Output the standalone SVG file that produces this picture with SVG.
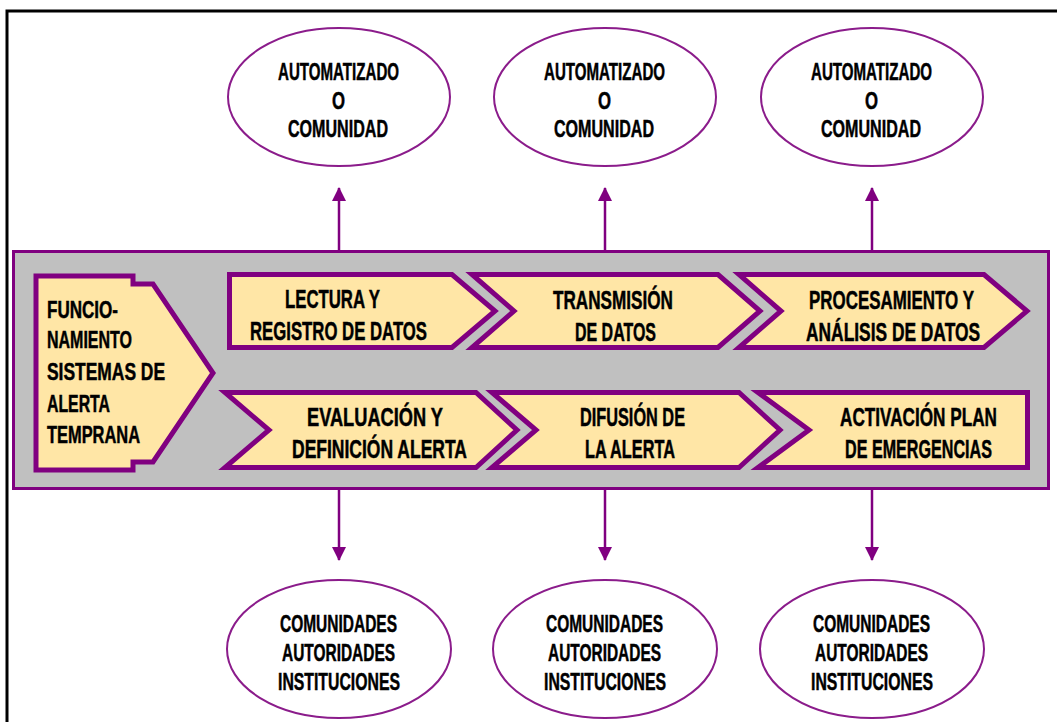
<svg xmlns="http://www.w3.org/2000/svg" width="1057" height="722" viewBox="0 0 1057 722">
<style>
.frame{fill:none;stroke:#000;stroke-width:3}
.band{fill:#C0C0C0;stroke:#800080;stroke-width:3}
.step{fill:#FFE6A6;stroke:#800080;stroke-width:5;stroke-linejoin:miter}
.oval{fill:#fff;stroke:#8B1C8B;stroke-width:2}
.t{font-family:"Liberation Sans",Arial,sans-serif;font-weight:bold;fill:#000;stroke:#000;stroke-width:0.5;font-size:25.5px}
.te{font-family:"Liberation Sans",Arial,sans-serif;font-weight:bold;fill:#000;stroke:#000;stroke-width:0.5;font-size:24px}
.tp{font-family:"Liberation Sans",Arial,sans-serif;font-weight:bold;fill:#000;stroke:#000;stroke-width:0.5;font-size:23.5px}
.conn{stroke:#800080;stroke-width:2.5;fill:none}
</style>
<defs>
<marker id="ah" markerUnits="userSpaceOnUse" markerWidth="14" markerHeight="14" refX="13" refY="7" orient="auto">
<path d="M0,0 L14,7 L0,14 z" fill="#800080"/>
</marker>
</defs>
<rect width="1057" height="722" fill="#fff"/>
<path class="frame" d="M7,722 V11 H1057"/>

<g id="connectors">
<line class="conn" x1="339" y1="250" x2="339" y2="188" marker-end="url(#ah)"/>
<line class="conn" x1="605" y1="250" x2="605" y2="188" marker-end="url(#ah)"/>
<line class="conn" x1="872" y1="250" x2="872" y2="188" marker-end="url(#ah)"/>
<line class="conn" x1="339" y1="490" x2="339" y2="560" marker-end="url(#ah)"/>
<line class="conn" x1="605" y1="490" x2="605" y2="560" marker-end="url(#ah)"/>
<line class="conn" x1="872" y1="490" x2="872" y2="560" marker-end="url(#ah)"/>
</g>

<g id="band">
<rect class="band" x="13.5" y="251.5" width="1035" height="237"/>
</g>

<g id="node-main">
<polygon class="step" points="36,276 133,276 133,284 153,284 213,373 153,462 133,462 133,470 36,470"/>
<text class="tp" transform="matrix(0.7 0 0 1 47 318)" textLength="101.4" lengthAdjust="spacingAndGlyphs">FUNCIO-</text>
<text class="tp" transform="matrix(0.7 0 0 1 47 348)" textLength="121.4" lengthAdjust="spacingAndGlyphs">NAMIENTO</text>
<text class="tp" transform="matrix(0.7 0 0 1 47 380)" textLength="168.6" lengthAdjust="spacingAndGlyphs">SISTEMAS DE</text>
<text class="tp" transform="matrix(0.7 0 0 1 47 412)" textLength="90" lengthAdjust="spacingAndGlyphs">ALERTA</text>
<text class="tp" transform="matrix(0.7 0 0 1 47 443)" textLength="132.9" lengthAdjust="spacingAndGlyphs">TEMPRANA</text>
</g>

<g id="node-lectura">
<polygon class="step" points="229.5,274.5 452,274.5 495,311 452,347.5 229.5,347.5"/>
<text class="t" transform="matrix(0.7 0 0 1 285 308)" textLength="135.7" lengthAdjust="spacingAndGlyphs">LECTURA Y</text>
<text class="t" transform="matrix(0.7 0 0 1 250 340)" textLength="252.9" lengthAdjust="spacingAndGlyphs">REGISTRO DE DATOS</text>
</g>

<g id="node-transmision">
<polygon class="step" points="472,274.5 718,274.5 760,311 718,347.5 472,347.5 514,311"/>
<text class="t" transform="matrix(0.7 0 0 1 553 309)" textLength="171.4" lengthAdjust="spacingAndGlyphs">TRANSMISIÓN</text>
<text class="t" transform="matrix(0.7 0 0 1 575 341)" textLength="115.7" lengthAdjust="spacingAndGlyphs">DE DATOS</text>
</g>

<g id="node-procesamiento">
<polygon class="step" points="739,274.5 984,274.5 1027,311 984,347.5 739,347.5 781,311"/>
<text class="t" transform="matrix(0.7 0 0 1 809 309)" textLength="235.7" lengthAdjust="spacingAndGlyphs">PROCESAMIENTO Y</text>
<text class="t" transform="matrix(0.7 0 0 1 806 341)" textLength="248.6" lengthAdjust="spacingAndGlyphs">ANÁLISIS DE DATOS</text>
</g>

<g id="node-evaluacion">
<polygon class="step" points="225,392.5 476,392.5 517,430 476,467.5 225,467.5 269,430"/>
<text class="t" transform="matrix(0.7 0 0 1 307 426)" textLength="194.3" lengthAdjust="spacingAndGlyphs">EVALUACIÓN Y</text>
<text class="t" transform="matrix(0.7 0 0 1 292 458)" textLength="250" lengthAdjust="spacingAndGlyphs">DEFINICIÓN ALERTA</text>
</g>

<g id="node-difusion">
<polygon class="step" points="492,392.5 739,392.5 780,430 739,467.5 492,467.5 536,430"/>
<text class="t" transform="matrix(0.7 0 0 1 580 426)" textLength="150" lengthAdjust="spacingAndGlyphs">DIFUSIÓN DE</text>
<text class="t" transform="matrix(0.7 0 0 1 585 458)" textLength="128.6" lengthAdjust="spacingAndGlyphs">LA ALERTA</text>
</g>

<g id="node-activacion">
<polygon class="step" points="758,392.5 1027.5,392.5 1027.5,467.5 758,467.5 809,430"/>
<text class="t" transform="matrix(0.7 0 0 1 840 426)" textLength="224.3" lengthAdjust="spacingAndGlyphs">ACTIVACIÓN PLAN</text>
<text class="t" transform="matrix(0.7 0 0 1 845 458)" textLength="210" lengthAdjust="spacingAndGlyphs">DE EMERGENCIAS</text>
</g>

<g id="oval-top-1">
<ellipse class="oval" cx="339" cy="97" rx="111" ry="69"/>
<text class="te" transform="matrix(0.7 0 0 1 278 80)" textLength="172.9" lengthAdjust="spacingAndGlyphs">AUTOMATIZADO</text>
<text class="te" transform="matrix(0.7 0 0 1 332 109)" textLength="18.6" lengthAdjust="spacingAndGlyphs">O</text>
<text class="te" transform="matrix(0.7 0 0 1 288 137)" textLength="142.9" lengthAdjust="spacingAndGlyphs">COMUNIDAD</text>
</g>
<g id="oval-top-2">
<ellipse class="oval" cx="605" cy="97" rx="111" ry="69"/>
<text class="te" transform="matrix(0.7 0 0 1 544 80)" textLength="172.9" lengthAdjust="spacingAndGlyphs">AUTOMATIZADO</text>
<text class="te" transform="matrix(0.7 0 0 1 598 109)" textLength="18.6" lengthAdjust="spacingAndGlyphs">O</text>
<text class="te" transform="matrix(0.7 0 0 1 554 137)" textLength="142.9" lengthAdjust="spacingAndGlyphs">COMUNIDAD</text>
</g>
<g id="oval-top-3">
<ellipse class="oval" cx="872" cy="97" rx="111" ry="69"/>
<text class="te" transform="matrix(0.7 0 0 1 811 80)" textLength="172.9" lengthAdjust="spacingAndGlyphs">AUTOMATIZADO</text>
<text class="te" transform="matrix(0.7 0 0 1 865 109)" textLength="18.6" lengthAdjust="spacingAndGlyphs">O</text>
<text class="te" transform="matrix(0.7 0 0 1 821 137)" textLength="142.9" lengthAdjust="spacingAndGlyphs">COMUNIDAD</text>
</g>

<g id="oval-bottom-1">
<ellipse class="oval" cx="339" cy="649" rx="112" ry="69"/>
<text class="te" transform="matrix(0.7 0 0 1 280 632)" textLength="167.1" lengthAdjust="spacingAndGlyphs">COMUNIDADES</text>
<text class="te" transform="matrix(0.7 0 0 1 282 661)" textLength="161.4" lengthAdjust="spacingAndGlyphs">AUTORIDADES</text>
<text class="te" transform="matrix(0.7 0 0 1 278 690)" textLength="174.3" lengthAdjust="spacingAndGlyphs">INSTITUCIONES</text>
</g>
<g id="oval-bottom-2">
<ellipse class="oval" cx="605" cy="649" rx="112" ry="69"/>
<text class="te" transform="matrix(0.7 0 0 1 546 632)" textLength="167.1" lengthAdjust="spacingAndGlyphs">COMUNIDADES</text>
<text class="te" transform="matrix(0.7 0 0 1 548 661)" textLength="161.4" lengthAdjust="spacingAndGlyphs">AUTORIDADES</text>
<text class="te" transform="matrix(0.7 0 0 1 544 690)" textLength="174.3" lengthAdjust="spacingAndGlyphs">INSTITUCIONES</text>
</g>
<g id="oval-bottom-3">
<ellipse class="oval" cx="872" cy="649" rx="112" ry="69"/>
<text class="te" transform="matrix(0.7 0 0 1 813 632)" textLength="167.1" lengthAdjust="spacingAndGlyphs">COMUNIDADES</text>
<text class="te" transform="matrix(0.7 0 0 1 815 661)" textLength="161.4" lengthAdjust="spacingAndGlyphs">AUTORIDADES</text>
<text class="te" transform="matrix(0.7 0 0 1 811 690)" textLength="174.3" lengthAdjust="spacingAndGlyphs">INSTITUCIONES</text>
</g>
</svg>
